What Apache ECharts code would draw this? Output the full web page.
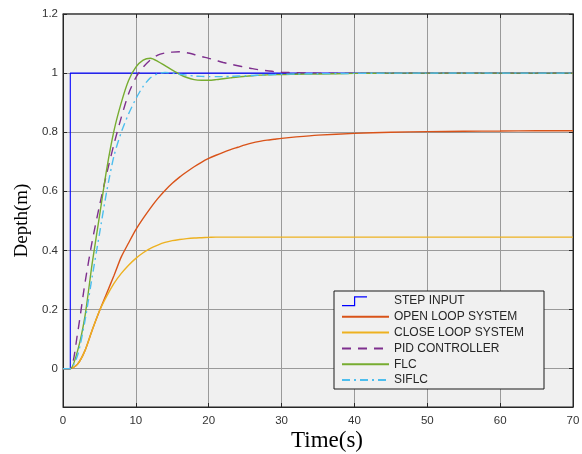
<!DOCTYPE html>
<html>
<head>
<meta charset="utf-8">
<script src="https://cdn.jsdelivr.net/npm/echarts@6/dist/echarts.min.js"></script>
<style>
  html, body { margin: 0; padding: 0; background: #ffffff; }
  #chart { width: 582px; height: 454px; }
</style>
</head>
<body>
<div id="chart"></div>
<script>
// Depth response of each control scheme over time (seconds)
const seriesNames = ['STEP INPUT', 'OPEN LOOP SYSTEM', 'CLOSE LOOP SYSTEM', 'PID CONTROLLER', 'FLC', 'SIFLC'];

const stepTime  = [0, 1, 1, 70];
const stepDepth = [0, 0, 1, 1];

const timeSec = [0, 1, 2, 3, 4, 5, 6, 7, 8, 9, 10, 11, 12, 13, 14, 15, 16, 17, 18, 19, 20,
                 21, 22, 23, 24, 25, 26, 27, 28, 29, 30, 32, 35, 40, 45, 50, 55, 60, 65, 70];

const openLoop = [0, 0, 0.015, 0.06, 0.13, 0.195, 0.255, 0.315, 0.378, 0.425, 0.47,
                  0.508, 0.543, 0.575, 0.603, 0.627, 0.648, 0.666, 0.683, 0.698, 0.711,
                  0.722, 0.732, 0.741, 0.749, 0.757, 0.764, 0.769, 0.773, 0.776, 0.779,
                  0.784, 0.79, 0.796, 0.8, 0.802, 0.803, 0.804, 0.805, 0.805];

const closeLoop = [0, 0, 0.015, 0.06, 0.13, 0.195, 0.245, 0.288, 0.322, 0.35, 0.373,
                   0.392, 0.407, 0.418, 0.427, 0.433, 0.437, 0.44, 0.442, 0.443, 0.444,
                   0.445, 0.445, 0.445, 0.445, 0.445, 0.445, 0.445, 0.445, 0.445, 0.445,
                   0.445, 0.445, 0.445, 0.445, 0.445, 0.445, 0.445, 0.445, 0.445];

const pidCtrl = [0, 0, 0.12, 0.287, 0.43, 0.55, 0.66, 0.76, 0.85, 0.93, 0.985,
                 1.02, 1.045, 1.061, 1.068, 1.071, 1.072, 1.069, 1.063, 1.056, 1.05,
                 1.043, 1.036, 1.03, 1.025, 1.02, 1.015, 1.011, 1.008, 1.005, 1.003,
                 1.001, 1.0, 1.0, 1.0, 1.0, 1.0, 1.0, 1.0, 1.0];

const flc = [0, 0, 0.06, 0.175, 0.355, 0.515, 0.675, 0.805, 0.9, 0.975, 1.02,
             1.044, 1.05, 1.04, 1.025, 1.01, 0.996, 0.985, 0.978, 0.976, 0.976,
             0.978, 0.981, 0.984, 0.987, 0.989, 0.991, 0.993, 0.994, 0.995, 0.995,
             0.996, 0.997, 0.999, 1.0, 1.0, 1.0, 1.0, 1.0, 1.0];

const siflc = [0, 0, 0.045, 0.16, 0.31, 0.455, 0.6, 0.72, 0.8, 0.862, 0.913,
               0.955, 0.984, 0.998, 1.002, 1.0, 0.996, 0.993, 0.99, 0.989, 0.988,
               0.988, 0.988, 0.989, 0.99, 0.991, 0.992, 0.993, 0.994, 0.995, 0.996,
               0.997, 0.998, 0.999, 1.0, 1.0, 1.0, 1.0, 1.0, 1.0];

const yTicks = [0, 0.2, 0.4, 0.6, 0.8, 1, 1.2];
const xTicks = [0, 10, 20, 30, 40, 50, 60, 70];

const colors = ['#0000ff', '#d95319', '#edb120', '#7e2f8e', '#77ac30', '#4dbeee'];

function pairs(xs, ys) { return xs.map((x, i) => [x, ys[i]]); }

const chart = echarts.init(document.getElementById('chart'), null, { renderer: 'canvas' });

const sansFont = '"Liberation Sans", Arial, sans-serif';
const serifFont = '"Liberation Serif", "Times New Roman", serif';

// step-shaped legend glyph; the zero-length subpaths fix the icon's bounding box
const stepIcon = 'path://M0,0L0,0M47,12L47,12M0,10L12,10L12,1.2L25,1.2L25,2.4L13.2,2.4L13.2,11.2L0,11.2Z';

function lineSeries(name, data, color, width, type) {
  return {
    name: name,
    type: 'line',
    data: data,
    xAxisIndex: 0,
    yAxisIndex: 0,
    symbol: 'none',
    smooth: 0.25,
    color: color,
    lineStyle: { color: color, width: width, type: type || 'solid' },
    clip: true,
    z: 3
  };
}

const option = {
  animation: false,
  backgroundColor: '#ffffff',
  grid: {
    left: 63, right: 9, top: 14, bottom: 47,
    outerBoundsMode: 'none',
    containLabel: false,
    show: true,
    backgroundColor: '#f0f0f0',
    borderColor: '#262626',
    borderWidth: 1
  },
  xAxis: [{
    type: 'value',
    min: 0, max: 70, interval: 10,
    name: 'Time(s)',
    nameLocation: 'middle',
    nameGap: 22,
    nameMoveOverlap: false,
    nameTextStyle: { fontFamily: serifFont, fontSize: 23, color: '#000000', padding: [0, 0, 0, 18] },
    axisLine: { show: true, onZero: false, lineStyle: { color: '#262626', width: 1 } },
    axisTick: { show: true, inside: true, length: 4, lineStyle: { color: '#262626' } },
    axisLabel: {
      customValues: xTicks,
      margin: 8,
      fontFamily: sansFont, fontSize: 11.5, color: '#333333'
    },
    splitLine: { show: true, lineStyle: { color: '#9a9a9a', width: 1 } }
  }, {
    type: 'value',
    position: 'top',
    min: 0, max: 70, interval: 10,
    axisLine: { show: true, onZero: false, lineStyle: { color: '#555555', width: 1.5 } },
    axisTick: { show: true, inside: true, length: 4, lineStyle: { color: '#262626' } },
    axisLabel: { show: false },
    splitLine: { show: false }
  }],
  yAxis: [{
    type: 'value',
    min: -0.13, max: 1.2,
    name: 'Depth(m)',
    nameLocation: 'middle',
    nameGap: 31,
    nameRotate: 90,
    nameMoveOverlap: false,
    nameTextStyle: { fontFamily: serifFont, fontSize: 19, color: '#000000', padding: [0, 20, 0, 0] },
    axisLine: { show: true, onZero: false, lineStyle: { color: '#262626', width: 1 } },
    axisTick: { show: true, inside: true, length: 4, customValues: yTicks, lineStyle: { color: '#262626' } },
    axisLabel: {
      customValues: yTicks,
      margin: 5,
      fontFamily: sansFont, fontSize: 11.5, color: '#333333',
      formatter: v => String(v)
    },
    splitLine: { show: true, lineStyle: { color: '#9a9a9a', width: 1 } }
  }, {
    type: 'value',
    position: 'right',
    min: -0.13, max: 1.2,
    axisLine: { show: true, onZero: false, lineStyle: { color: '#262626', width: 1 } },
    axisTick: { show: true, inside: true, length: 4, customValues: yTicks, lineStyle: { color: '#262626' } },
    axisLabel: { show: false },
    splitLine: { show: false }
  }],
  legend: {
    orient: 'vertical',
    left: 334,
    top: 291,
    padding: [4, 5, 3, 7],
    backgroundColor: '#f0f0f0',
    borderColor: '#1a1a1a',
    borderWidth: 1,
    borderRadius: 0,
    itemWidth: 47,
    itemHeight: 12,
    itemGap: 3.8,
    itemStyle: { opacity: 0 },
    textStyle: { fontFamily: sansFont, fontSize: 12, color: '#262626', lineHeight: 12, width: 145 },
    data: [
      { name: seriesNames[0], icon: stepIcon, itemStyle: { opacity: 1 } },
      seriesNames[1], seriesNames[2], seriesNames[3], seriesNames[4], seriesNames[5]
    ]
  },
  series: [
    Object.assign(lineSeries(seriesNames[0], pairs(stepTime, stepDepth), colors[0], 1.1), { smooth: false }),
    lineSeries(seriesNames[1], pairs(timeSec, openLoop), colors[1], 1.4),
    lineSeries(seriesNames[2], pairs(timeSec, closeLoop), colors[2], 1.4),
    lineSeries(seriesNames[3], pairs(timeSec, pidCtrl), colors[3], 1.4, [9, 7]),
    lineSeries(seriesNames[4], pairs(timeSec, flc), colors[4], 1.4),
    lineSeries(seriesNames[5], pairs(timeSec, siflc), colors[5], 1.4, [8, 4, 2, 4])
  ]
};

chart.setOption(option);
</script>
</body>
</html>
